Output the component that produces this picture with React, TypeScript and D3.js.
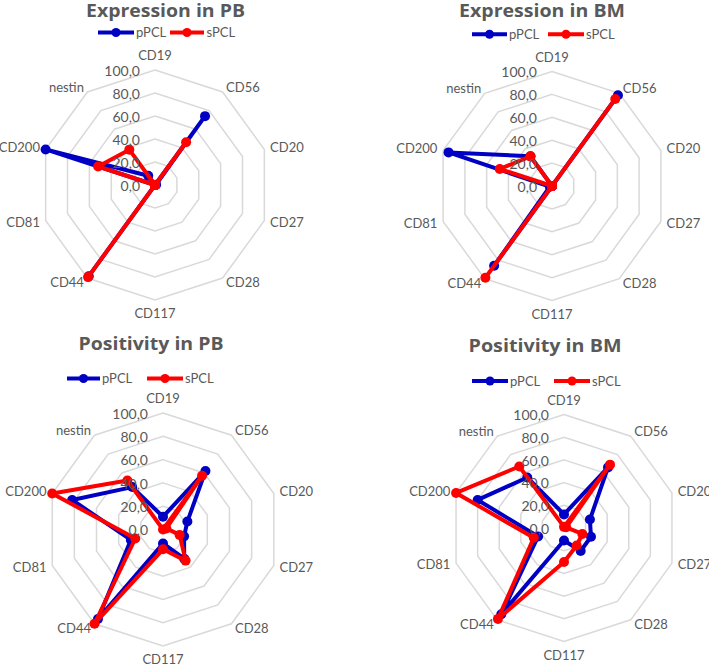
import React from "react";
import * as d3 from "d3";

const categories = ["CD19", "CD56", "CD20", "CD27", "CD28", "CD117", "CD44", "CD81", "CD200", "nestin"];
const tickValues = [0, 20, 40, 60, 80, 100];
const tickLabels = ["0,0", "20,0", "40,0", "60,0", "80,0", "100,0"];
const seriesNames = ["pPCL", "sPCL"];
const titles = ["Expression in PB", "Expression in BM", "Positivity in PB", "Positivity in BM"];

const exprPB_pPCL = [0, 74, 1, 0, 0, 0, 98, 0, 100, 10];
const exprPB_sPCL = [0, 46, 0, 0, 0, 0, 99, 0, 52, 38];
const exprBM_pPCL = [0, 98, 0, 0, 0, 0, 86, 2, 95, 32];
const exprBM_sPCL = [0, 94, 0, 0, 0, 0, 99, 0, 48, 32];
const posPB_pPCL = [11, 62, 22, 19, 31, 12, 95, 29, 82, 45];
const posPB_sPCL = [0, 57, 3, 15, 33, 17, 100, 25, 100, 52];
const posBM_pPCL = [12, 66, 24, 25, 25, 11, 94, 24, 80, 55];
const posBM_sPCL = [1, 69, 2, 17, 19, 30, 99, 28, 100, 67];

const panelData = [
  [exprPB_pPCL, exprPB_sPCL],
  [exprBM_pPCL, exprBM_sPCL],
  [posPB_pPCL, posPB_sPCL],
  [posBM_pPCL, posBM_sPCL],
];

const COLORS = ["#0000c4", "#ff0000"];
const TEXT = "#595959";
const GRID = "#d9d9d9";
const FONT = "Lato, 'Open Sans', sans-serif";
const TITLE_FONT = "'Open Sans', Lato, sans-serif";

const layouts = [
  { cx: 155, cy: 185, R: 115, tx: 165.5, ty: 17, tw: 159, ly: 32.5, leg: [[98, 134, 136], [170, 204, 206.5]] },
  { cx: 552, cy: 186, R: 114.5, tx: 542, ty: 17, tw: 166, ly: 34.3, leg: [[472, 507, 509], [548, 584, 586]] },
  { cx: 163, cy: 529.5, R: 116.5, tx: 151, ty: 350, tw: 145, ly: 378.5, leg: [[67, 100, 102], [147, 183, 185]] },
  { cx: 564, cy: 528, R: 113.5, tx: 545, ty: 351.5, tw: 153, ly: 381, leg: [[472, 508, 510], [554, 590, 592]] },
];

function Radar({ idx }: { idx: number }) {
  const L = layouts[idx];
  const { cx, cy, R } = L;
  const r = d3.scaleLinear().domain([0, 100]).range([0, R]);
  const angle = d3.scaleBand<string>().domain(categories).range([0, 2 * Math.PI]).paddingInner(0).paddingOuter(0);
  const line = d3
    .lineRadial<number>()
    .angle((_, i) => angle(categories[i]) as number)
    .radius((d) => r(d))
    .curve(d3.curveLinearClosed);

  const series = panelData[idx];

  return (
    <g>
      <text
        x={L.tx}
        y={L.ty}
        textAnchor="middle"
        fontFamily={TITLE_FONT}
        fontWeight="bold"
        fontSize={17.5}
        fill={TEXT}
        textLength={L.tw}
        lengthAdjust="spacingAndGlyphs"
      >
        {titles[idx]}
      </text>
      {seriesNames.map((name, s) => {
        const [x0, x1, xt] = L.leg[s];
        return (
          <g key={name}>
            <line x1={x0} x2={x1} y1={L.ly} y2={L.ly} stroke={COLORS[s]} strokeWidth={4} />
            <circle cx={(x0 + x1) / 2} cy={L.ly} r={4.5} fill={COLORS[s]} />
            <text x={xt} y={L.ly + 4.6} fontFamily={FONT} fontSize={13} fill={TEXT}>
              {name}
            </text>
          </g>
        );
      })}
      <g transform={`translate(${cx},${cy})`}>
        {tickValues
          .filter((t) => t > 0)
          .map((t) => (
            <path key={t} d={line(categories.map(() => t)) || ""} fill="none" stroke={GRID} strokeWidth={1.5} />
          ))}
        {categories.map((c) => {
          const a = angle(c) as number;
          const rr = R + 6;
          const sx = Math.sin(a);
          const cyy = -Math.cos(a);
          const x = rr * sx;
          let y = rr * cyy + 4.5;
          let anchor = "middle";
          if (Math.abs(sx) < 0.1) {
            y = cyy < 0 ? -R - 10 : R + 18;
          } else {
            anchor = sx > 0 ? "start" : "end";
          }
          return (
            <text key={c} x={x} y={y} textAnchor={anchor} fontFamily={FONT} fontSize={13} fill={TEXT}>
              {c}
            </text>
          );
        })}
        {series.map((vals, s) => (
          <g key={s}>
            <path d={line(vals) || ""} fill="none" stroke={COLORS[s]} strokeWidth={4} strokeLinejoin="round" />
            {vals.map((v, i) => {
              const a = angle(categories[i]) as number;
              return <circle key={i} cx={r(v) * Math.sin(a)} cy={-r(v) * Math.cos(a)} r={5} fill={COLORS[s]} />;
            })}
          </g>
        ))}
        {tickValues.map((t, i) => (
          <text key={t} x={-15} y={-r(t) + 5.8} textAnchor="end" fontFamily={FONT} fontSize={14} fill={TEXT}>
            {tickLabels[i]}
          </text>
        ))}
      </g>
    </g>
  );
}

export default function App() {
  return (
    <svg width={709} height={670} style={{ position: "absolute", left: 0, top: 0, background: "#fff" }}>
      <rect width={709} height={670} fill="#fff" />
      {layouts.map((_, i) => (
        <Radar key={i} idx={i} />
      ))}
    </svg>
  );
}
